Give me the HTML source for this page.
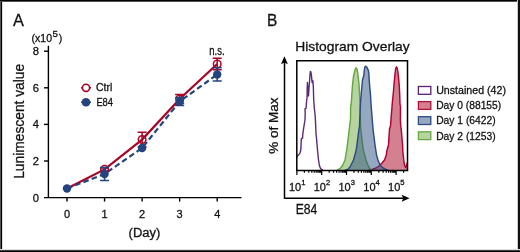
<!DOCTYPE html>
<html><head><meta charset="utf-8"><style>
html,body{margin:0;padding:0;background:#fff;}
body{width:520px;height:252px;overflow:hidden;position:relative;}
svg{position:absolute;left:0;top:0;will-change:transform;}
text{font-family:"Liberation Sans",sans-serif;fill:#111;stroke:#111;stroke-width:0.28px;}
</style></head><body>
<svg width="520" height="252" viewBox="0 0 520 252">
<rect x="0" y="0" width="520" height="252" fill="#fff"/>
<path d="M48.4,45.8 V197.6 M44,197.6 H241.5" stroke="#000" stroke-width="1.4" fill="none"/>
<path d="M44,51.20 H48.4" stroke="#000" stroke-width="1.4"/>
<path d="M44,87.80 H48.4" stroke="#000" stroke-width="1.4"/>
<path d="M44,124.40 H48.4" stroke="#000" stroke-width="1.4"/>
<path d="M44,161.00 H48.4" stroke="#000" stroke-width="1.4"/>
<path d="M67.00,197.6 V201.6" stroke="#000" stroke-width="1.4"/>
<path d="M104.55,197.6 V201.6" stroke="#000" stroke-width="1.4"/>
<path d="M142.10,197.6 V201.6" stroke="#000" stroke-width="1.4"/>
<path d="M179.65,197.6 V201.6" stroke="#000" stroke-width="1.4"/>
<path d="M217.20,197.6 V201.6" stroke="#000" stroke-width="1.4"/>
<text x="39.1" y="55.10" font-size="11.2" text-anchor="end">8</text>
<text x="39.1" y="91.70" font-size="11.2" text-anchor="end">6</text>
<text x="39.1" y="128.30" font-size="11.2" text-anchor="end">4</text>
<text x="39.1" y="164.90" font-size="11.2" text-anchor="end">2</text>
<text x="39.1" y="201.50" font-size="11.2" text-anchor="end">0</text>
<text x="67.00" y="217.5" font-size="11" text-anchor="middle">0</text>
<text x="104.55" y="217.5" font-size="11" text-anchor="middle">1</text>
<text x="142.10" y="217.5" font-size="11" text-anchor="middle">2</text>
<text x="179.65" y="217.5" font-size="11" text-anchor="middle">3</text>
<text x="217.20" y="217.5" font-size="11" text-anchor="middle">4</text>
<polyline points="67.00,188.45 104.55,169.42 142.10,139.59 179.65,98.96 217.20,64.01" stroke="#aa0424" stroke-width="2.2" fill="none"/>
<polyline points="67.00,188.45 104.55,173.99 142.10,148.01 179.65,101.52 217.20,74.44" stroke="#24447f" stroke-width="2.2" fill="none" stroke-dasharray="5.6 3.2"/>
<path d="M104.55,167.95 V170.88 M100.05,167.95 H109.05 M100.05,170.88 H109.05" stroke="#aa0424" stroke-width="1.5" fill="none"/>
<path d="M142.10,132.27 V146.91 M137.60,132.27 H146.60 M137.60,146.91 H146.60" stroke="#aa0424" stroke-width="1.5" fill="none"/>
<path d="M179.65,94.39 V103.54 M175.15,94.39 H184.15 M175.15,103.54 H184.15" stroke="#aa0424" stroke-width="1.5" fill="none"/>
<path d="M217.20,58.34 V69.68 M212.70,58.34 H221.70 M212.70,69.68 H221.70" stroke="#aa0424" stroke-width="1.5" fill="none"/>
<circle cx="104.55" cy="169.42" r="3.8" stroke="#aa0424" stroke-width="1.5" fill="none"/>
<circle cx="142.10" cy="139.59" r="3.8" stroke="#aa0424" stroke-width="1.5" fill="none"/>
<circle cx="179.65" cy="98.96" r="3.8" stroke="#aa0424" stroke-width="1.5" fill="none"/>
<circle cx="217.20" cy="64.01" r="3.8" stroke="#aa0424" stroke-width="1.5" fill="none"/>
<path d="M104.55,167.59 V180.40 M100.05,167.59 H109.05 M100.05,180.40 H109.05" stroke="#24447f" stroke-width="1.5" fill="none"/>
<path d="M179.65,97.50 V105.55 M175.15,97.50 H184.15 M175.15,105.55 H184.15" stroke="#24447f" stroke-width="1.5" fill="none"/>
<path d="M217.20,67.85 V81.03 M212.70,67.85 H221.70 M212.70,81.03 H221.70" stroke="#24447f" stroke-width="1.5" fill="none"/>
<circle cx="67.00" cy="188.45" r="4.2" fill="#24447f"/>
<circle cx="104.55" cy="173.99" r="4.2" fill="#24447f"/>
<circle cx="142.10" cy="148.01" r="4.2" fill="#24447f"/>
<circle cx="179.65" cy="101.52" r="4.2" fill="#24447f"/>
<circle cx="217.20" cy="74.44" r="4.2" fill="#24447f"/>
<path d="M81,87.8 H91" stroke="#aa0424" stroke-width="1.5"/><circle cx="86" cy="87.8" r="3.6" stroke="#aa0424" stroke-width="1.6" fill="#fff"/>
<path d="M81,102.2 H91" stroke="#24447f" stroke-width="1.5"/><circle cx="86" cy="102.2" r="4.3" fill="#24447f"/>
<text x="96" y="91.2" font-size="10.2" textLength="16.2" lengthAdjust="spacingAndGlyphs">Ctrl</text>
<text x="96.4" y="105.8" font-size="10.2" textLength="16.6" lengthAdjust="spacingAndGlyphs">E84</text>
<text x="209.3" y="55.2" font-size="12" textLength="15.2" lengthAdjust="spacingAndGlyphs">n.s.</text>
<text x="12.9" y="26" font-size="17" textLength="10.9" lengthAdjust="spacingAndGlyphs">A</text>
<text x="31.6" y="42" font-size="10.5">(x10<tspan font-size="9.6" dy="-4.8" dx="0.4">5</tspan><tspan dy="4.8" dx="1">)</tspan></text>
<text x="128.6" y="237" font-size="12" textLength="31.8" lengthAdjust="spacingAndGlyphs">(Day)</text>
<text transform="translate(24.2,178.8) rotate(-90)" font-size="14" textLength="115" lengthAdjust="spacingAndGlyphs">Lunimescent value</text>
<text x="266.9" y="26" font-size="17" textLength="10.3" lengthAdjust="spacingAndGlyphs">B</text>
<text x="295.2" y="51" font-size="12.6" textLength="114.5" lengthAdjust="spacingAndGlyphs">Histogram Overlay</text>
<text transform="translate(278.0,153.8) rotate(-90)" font-size="13" textLength="56.2" lengthAdjust="spacingAndGlyphs">% of Max</text>
<text x="295.7" y="214.4" font-size="14" textLength="21.6" lengthAdjust="spacingAndGlyphs">E84</text>
<path d="M284.5,62 V198.2 H403.5" stroke="#000" stroke-width="1.5" fill="none"/>
<path d="M284.4,56.2 L287.9,64.2 L284.4,62.6 L281.0,64.2 Z" fill="#000"/>
<path d="M409.6,198.2 L401.6,194.8 L403.3,198.2 L401.6,201.7 Z" fill="#000"/>
<svg x="0" y="0" width="520" height="252"><clipPath id="cp"><rect x="296.8" y="60.7" width="110.8" height="109.3"/></clipPath><g clip-path="url(#cp)">
<path d="M368,170 L372,169.5 L376,168 L379,166 L382,163 L384.5,160 L386.3,155 L386.8,151 L388.5,145 L389.5,129 L390.5,126 L391.5,113 L392,107 L392.2,104 L393.4,92 L394,85 L394.6,78 L395.2,72 L395.7,68.5 L396.5,66.8 L397.3,68.5 L397.9,72 L398.6,78 L399.2,85 L399.6,92 L400,104 L400.5,107 L400.4,120 L400.7,126 L401.2,129 L402.6,145 L402.8,151 L403.2,155 L403.8,160 L404.3,164 L405,166.5 L405.7,167.4 L406.4,166 L407.2,163 L407.2,170.0 L368,170.0 Z" fill="#a70321" fill-opacity="0.5" stroke="none"/><path d="M368,170 L372,169.5 L376,168 L379,166 L382,163 L384.5,160 L386.3,155 L386.8,151 L388.5,145 L389.5,129 L390.5,126 L391.5,113 L392,107 L392.2,104 L393.4,92 L394,85 L394.6,78 L395.2,72 L395.7,68.5 L396.5,66.8 L397.3,68.5 L397.9,72 L398.6,78 L399.2,85 L399.6,92 L400,104 L400.5,107 L400.4,120 L400.7,126 L401.2,129 L402.6,145 L402.8,151 L403.2,155 L403.8,160 L404.3,164 L405,166.5 L405.7,167.4 L406.4,166 L407.2,163" fill="none" stroke="#af0032" stroke-width="1.45" stroke-linejoin="round"/>
<path d="M337,170 L338.5,169.5 L341,167.5 L342.8,165 L345,160 L346.5,151 L347,148 L349.3,129 L349.6,126 L350.5,119 L350.6,107 L351.2,104 L352.3,88 L352.5,85 L353.3,78 L354.2,73 L355.2,69.5 L356,67.8 L356.8,68.5 L357.6,72 L358.3,78 L358.8,82 L359.1,85 L359.8,100 L360.1,107 L360.5,126 L362,140 L363,148 L363.5,151 L366,160 L367.5,164 L369,167.5 L370.5,169.5 L372,170 L372,170.0 L337,170.0 Z" fill="#6fa941" fill-opacity="0.5" stroke="none"/><path d="M337,170 L338.5,169.5 L341,167.5 L342.8,165 L345,160 L346.5,151 L347,148 L349.3,129 L349.6,126 L350.5,119 L350.6,107 L351.2,104 L352.3,88 L352.5,85 L353.3,78 L354.2,73 L355.2,69.5 L356,67.8 L356.8,68.5 L357.6,72 L358.3,78 L358.8,82 L359.1,85 L359.8,100 L360.1,107 L360.5,126 L362,140 L363,148 L363.5,151 L366,160 L367.5,164 L369,167.5 L370.5,169.5 L372,170" fill="none" stroke="#62a83e" stroke-width="1.45" stroke-linejoin="round"/>
<path d="M345,170 L347.5,169.5 L350,167 L353.5,160 L356,151 L356.5,148 L359,129 L359.5,126 L360.3,107 L360.7,100 L362,85 L362.5,80 L363.2,77.5 L363.8,75.5 L364.2,71 L364.8,67.5 L365.3,66.3 L366.3,66.6 L367.3,68 L368.4,70.5 L368.9,74 L369.2,80 L369.6,85 L370.5,95 L371,104 L371.5,110 L372.3,120 L373,129 L375,145 L375.5,148 L376.5,155 L378,160 L380,165 L383,168 L386,169.5 L388,170 L388,170.0 L345,170.0 Z" fill="#2d4f81" fill-opacity="0.5" stroke="none"/><path d="M345,170 L347.5,169.5 L350,167 L353.5,160 L356,151 L356.5,148 L359,129 L359.5,126 L360.3,107 L360.7,100 L362,85 L362.5,80 L363.2,77.5 L363.8,75.5 L364.2,71 L364.8,67.5 L365.3,66.3 L366.3,66.6 L367.3,68 L368.4,70.5 L368.9,74 L369.2,80 L369.6,85 L370.5,95 L371,104 L371.5,110 L372.3,120 L373,129 L375,145 L375.5,148 L376.5,155 L378,160 L380,165 L383,168 L386,169.5 L388,170" fill="none" stroke="#2d4b82" stroke-width="1.45" stroke-linejoin="round"/>
<path d="M296.5,157.5 L297.5,155.8 L299,154.5 L300.2,152.5 L300.9,149 L301.2,141 L301.4,138.6 L302.6,138 L302.7,135 L303.4,130 L304.3,124 L305,120 L305.2,113 L305,108.8 L306.1,108.3 L306.6,101 L307.1,96.5 L307.2,88 L307.4,82.4 L307.9,89 L308.5,96 L309.0,88 L309.5,82 L310,75 L310.4,71.4 L310.9,72 L311.5,76 L312.1,82.5 L312.8,80.6 L313.3,86 L313.5,93 L313.7,100 L314.3,108 L315.1,115 L315.4,120 L315.7,126 L316,134 L316.5,138 L317.5,150 L318.5,160 L319.3,165 L320.3,168 L321.5,169.5 L323,170" fill="none" stroke="#5a2a72" stroke-width="1.4" stroke-linejoin="round"/>
</g></svg>
<path d="M296.8,60.7 H408.3 M407.5,60 V171.1 M296.8,59.9 V171.1 M296,170.45 H408.3" stroke="#000" stroke-width="1.5" fill="none"/>
<path d="M296.90,170 V175 M304.37,170 V172.8 M308.73,170 V172.8 M311.83,170 V172.8 M314.23,170 V172.8 M316.20,170 V172.8 M317.86,170 V172.8 M319.30,170 V172.8 M320.57,170 V172.8 M321.70,170 V175 M329.17,170 V172.8 M333.53,170 V172.8 M336.63,170 V172.8 M339.03,170 V172.8 M341.00,170 V172.8 M342.66,170 V172.8 M344.10,170 V172.8 M345.37,170 V172.8 M346.50,170 V175 M353.97,170 V172.8 M358.33,170 V172.8 M361.43,170 V172.8 M363.83,170 V172.8 M365.80,170 V172.8 M367.46,170 V172.8 M368.90,170 V172.8 M370.17,170 V172.8 M371.30,170 V175 M378.77,170 V172.8 M383.13,170 V172.8 M386.23,170 V172.8 M388.63,170 V172.8 M390.60,170 V172.8 M392.26,170 V172.8 M393.70,170 V172.8 M394.97,170 V172.8 M396.10,170 V175 M403.57,170 V172.8" stroke="#000" stroke-width="1.2"/>
<text x="288.90" y="191" font-size="11">10<tspan font-size="7.6" dy="-6.0">1</tspan></text>
<text x="313.70" y="191" font-size="11">10<tspan font-size="7.6" dy="-6.0">2</tspan></text>
<text x="338.50" y="191" font-size="11">10<tspan font-size="7.6" dy="-6.0">3</tspan></text>
<text x="363.30" y="191" font-size="11">10<tspan font-size="7.6" dy="-6.0">4</tspan></text>
<text x="388.10" y="191" font-size="11">10<tspan font-size="7.6" dy="-6.0">5</tspan></text>
<rect x="418.4" y="86.50" width="12.4" height="7.8" fill="#fff" stroke="#5a2070" stroke-width="1.3"/>
<text x="436.2" y="94.20" font-size="10.5" textLength="69.8" lengthAdjust="spacingAndGlyphs">Unstained (42)</text>
<rect x="418.4" y="101.60" width="12.4" height="7.8" fill="#d3808f" stroke="#b0103a" stroke-width="1.3"/>
<text x="436.2" y="109.30" font-size="10.5" textLength="65" lengthAdjust="spacingAndGlyphs">Day 0 (88155)</text>
<rect x="418.4" y="116.70" width="12.4" height="7.8" fill="#96a7c0" stroke="#2d4b82" stroke-width="1.3"/>
<text x="436.2" y="124.40" font-size="10.5" textLength="59.4" lengthAdjust="spacingAndGlyphs">Day 1 (6422)</text>
<rect x="418.4" y="131.80" width="12.4" height="7.8" fill="#b7d4a0" stroke="#64aa41" stroke-width="1.3"/>
<text x="436.2" y="139.50" font-size="10.5" textLength="59.4" lengthAdjust="spacingAndGlyphs">Day 2 (1253)</text>
<rect x="0" y="0" width="1" height="252" fill="#555"/>
<rect x="1" y="0" width="1" height="252" fill="#000"/>
<rect x="2" y="0" width="1" height="252" fill="#e2e2e2"/>
<rect x="0" y="0" width="520" height="1" fill="#000"/>
<rect x="0" y="1" width="520" height="1" fill="#555"/>
<rect x="517" y="0" width="1" height="252" fill="#ccc"/>
<rect x="518" y="0" width="2" height="252" fill="#111"/>
<rect x="0" y="249" width="520" height="1" fill="#ddd"/>
<rect x="0" y="250" width="520" height="1" fill="#444"/>
<rect x="0" y="251" width="520" height="1" fill="#000"/>
</svg>
</body></html>
